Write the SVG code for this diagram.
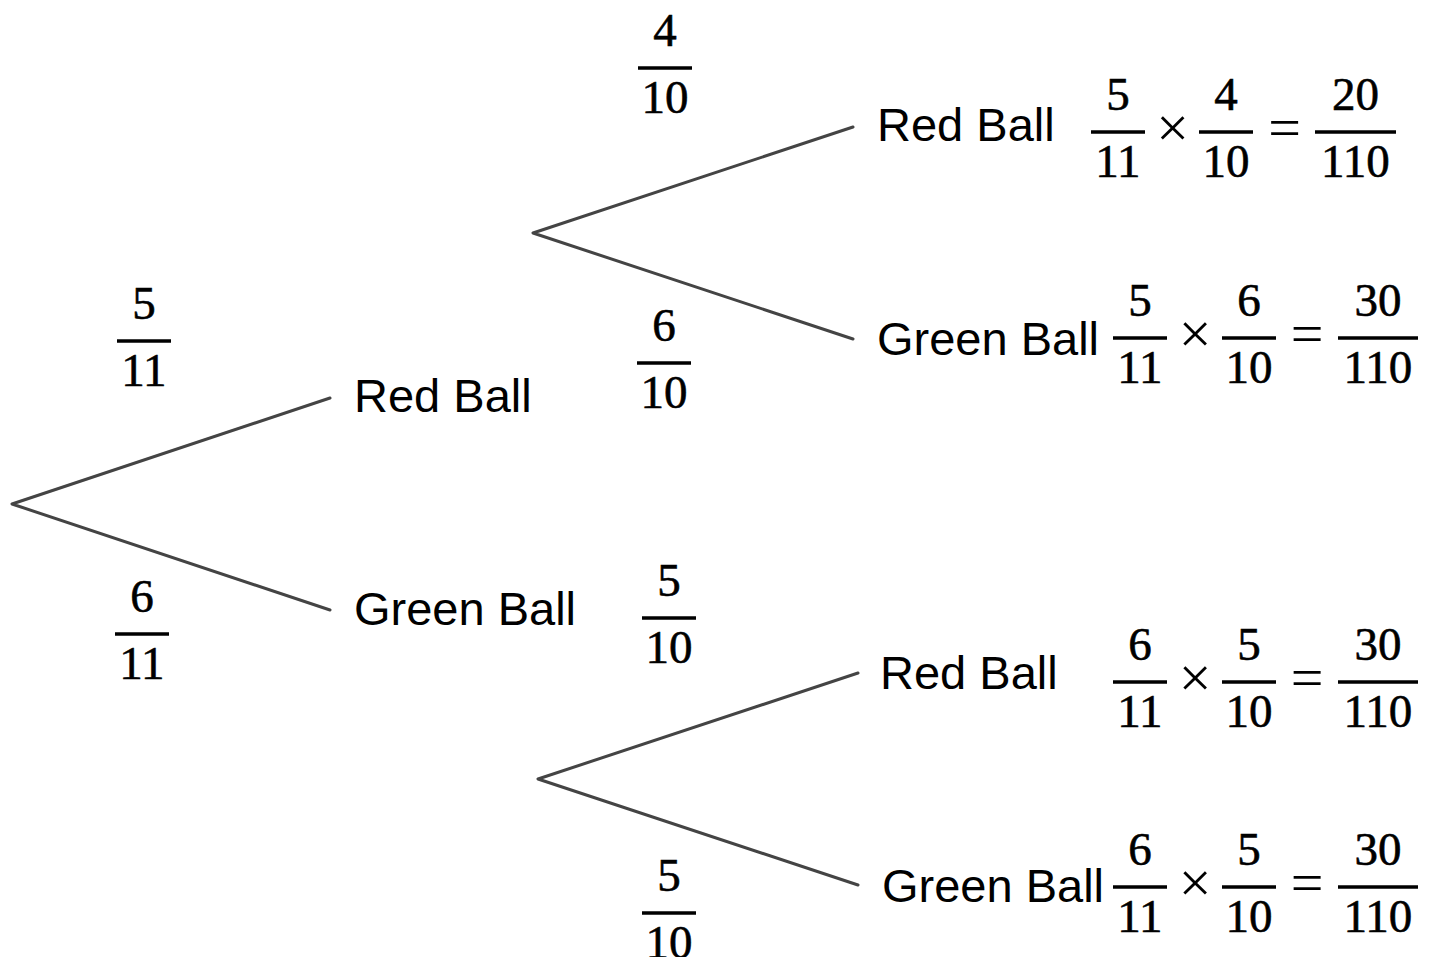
<svg xmlns="http://www.w3.org/2000/svg" width="1437" height="957" viewBox="0 0 1437 957">
<style>
.lbl{font-family:"Liberation Sans",Arial,sans-serif;font-size:47px;fill:#000}
.m{font-family:"Liberation Serif","Times New Roman",serif;font-size:47px;fill:#000;stroke:#000;stroke-width:0.6;text-anchor:middle}
.op{font-family:"Liberation Serif","Times New Roman",serif;font-size:58px;fill:#000;text-anchor:middle}
.bar{stroke:#000;stroke-width:3.6}
.edge{stroke:#444;stroke-width:3;fill:none;stroke-linecap:round;stroke-linejoin:round}
</style>
<rect width="1437" height="957" fill="#fff"/>
<g id="connectors">
<polyline class="edge" points="330,398 12,504 330,610"/>
<polyline class="edge" points="853,127 533,233 853,339"/>
<polyline class="edge" points="858,673 538,779 858,885"/>
</g>
<g id="edge-labels">
<g id="p-root-red"><text class="m" x="144" y="319">5</text><line class="bar" x1="117" y1="341" x2="171" y2="341"/><text class="m" x="144" y="386">11</text></g>
<g id="p-root-green"><text class="m" x="142" y="612">6</text><line class="bar" x1="115" y1="634" x2="169" y2="634"/><text class="m" x="142" y="679">11</text></g>
<g id="p-red-red"><text class="m" x="665" y="46">4</text><line class="bar" x1="638" y1="68" x2="692" y2="68"/><text class="m" x="665" y="113">10</text></g>
<g id="p-red-green"><text class="m" x="664" y="341">6</text><line class="bar" x1="637" y1="363" x2="691" y2="363"/><text class="m" x="664" y="408">10</text></g>
<g id="p-green-red"><text class="m" x="669" y="596">5</text><line class="bar" x1="642" y1="618" x2="696" y2="618"/><text class="m" x="669" y="663">10</text></g>
<g id="p-green-green"><text class="m" x="669" y="891">5</text><line class="bar" x1="642" y1="913" x2="696" y2="913"/><text class="m" x="669" y="958">10</text></g>
</g>
<g id="root"></g>
<g id="n-red"><text class="lbl" x="354" y="412">Red Ball</text></g>
<g id="n-green"><text class="lbl" x="354" y="625">Green Ball</text></g>
<g id="n-red-red">
<text class="lbl" x="877" y="141">Red Ball</text>
<text class="m" x="1118" y="110">5</text><line class="bar" x1="1091" y1="132" x2="1145" y2="132"/><text class="m" x="1118" y="177">11</text>
<text class="op" x="1172.5" y="147">×</text>
<text class="m" x="1226" y="110">4</text><line class="bar" x1="1199" y1="132" x2="1253" y2="132"/><text class="m" x="1226" y="177">10</text>
<text class="op" x="1284.5" y="147">=</text>
<text class="m" x="1355.5" y="110">20</text><line class="bar" x1="1315" y1="132" x2="1396" y2="132"/><text class="m" x="1355.5" y="177">110</text>
</g>
<g id="n-red-green">
<text class="lbl" x="877" y="355">Green Ball</text>
<text class="m" x="1140" y="316">5</text><line class="bar" x1="1113" y1="338" x2="1167" y2="338"/><text class="m" x="1140" y="383">11</text>
<text class="op" x="1195" y="353">×</text>
<text class="m" x="1249" y="316">6</text><line class="bar" x1="1222" y1="338" x2="1276" y2="338"/><text class="m" x="1249" y="383">10</text>
<text class="op" x="1307" y="353">=</text>
<text class="m" x="1378" y="316">30</text><line class="bar" x1="1338" y1="338" x2="1418" y2="338"/><text class="m" x="1378" y="383">110</text>
</g>
<g id="n-green-red">
<text class="lbl" x="880" y="689">Red Ball</text>
<text class="m" x="1140" y="660">6</text><line class="bar" x1="1113" y1="682" x2="1167" y2="682"/><text class="m" x="1140" y="727">11</text>
<text class="op" x="1195" y="697">×</text>
<text class="m" x="1249" y="660">5</text><line class="bar" x1="1222" y1="682" x2="1276" y2="682"/><text class="m" x="1249" y="727">10</text>
<text class="op" x="1307" y="697">=</text>
<text class="m" x="1378" y="660">30</text><line class="bar" x1="1338" y1="682" x2="1418" y2="682"/><text class="m" x="1378" y="727">110</text>
</g>
<g id="n-green-green">
<text class="lbl" x="882" y="902">Green Ball</text>
<text class="m" x="1140" y="865">6</text><line class="bar" x1="1113" y1="887" x2="1167" y2="887"/><text class="m" x="1140" y="932">11</text>
<text class="op" x="1195" y="902">×</text>
<text class="m" x="1249" y="865">5</text><line class="bar" x1="1222" y1="887" x2="1276" y2="887"/><text class="m" x="1249" y="932">10</text>
<text class="op" x="1307" y="902">=</text>
<text class="m" x="1378" y="865">30</text><line class="bar" x1="1338" y1="887" x2="1418" y2="887"/><text class="m" x="1378" y="932">110</text>
</g>
</svg>
